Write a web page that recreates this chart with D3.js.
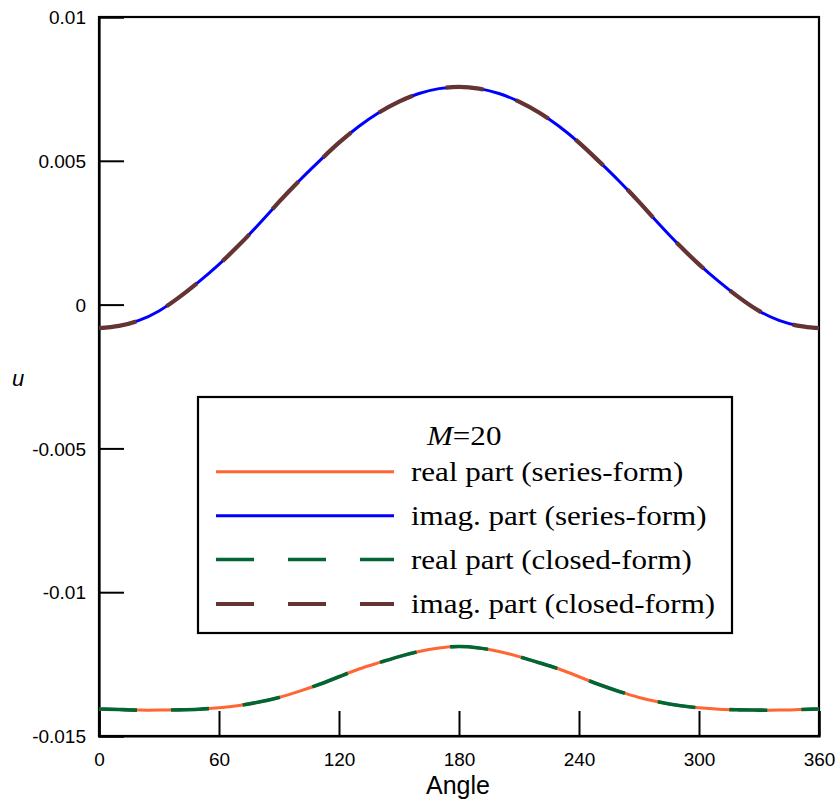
<!DOCTYPE html>
<html><head><meta charset="utf-8">
<script src="https://cdn.jsdelivr.net/npm/d3@7"></script>
<style>body{margin:0;background:#fff}svg{display:block}</style>
</head><body>
<svg id="c" width="839" height="803"></svg>
<script>
const angles = [0,10,20,30,40,50,60,70,80,90,100,110,120,130,140,150,160,170,180,190,200,210,220,230,240,250,260,270,280,290,300,310,320,330,340,350,360];
const imagPart = [-0.00082,-0.00074,-0.00055,-0.00022,0.00025,0.00080,0.00140,0.00207,0.00280,0.00357,0.00430,0.00498,0.00563,0.00620,0.00668,0.00706,0.00734,0.00751,0.00757,0.00751,0.00734,0.00706,0.00668,0.00620,0.00563,0.00498,0.00430,0.00357,0.00280,0.00207,0.00140,0.00080,0.00025,-0.00022,-0.00055,-0.00074,-0.00082];
const realPart = [-0.01406,-0.01408,-0.01410,-0.01410,-0.01409,-0.01407,-0.01402,-0.01394,-0.01382,-0.01366,-0.01345,-0.01321,-0.01294,-0.01267,-0.01245,-0.01224,-0.01206,-0.01194,-0.01189,-0.01194,-0.01206,-0.01224,-0.01245,-0.01267,-0.01294,-0.01321,-0.01345,-0.01366,-0.01382,-0.01394,-0.01402,-0.01407,-0.01409,-0.01410,-0.01410,-0.01408,-0.01406];
const xTicks = [0,60,120,180,240,300,360];
const yTicks = [-0.015,-0.01,-0.005,0,0.005,0.01];
const yTickLabels = ["-0.015","-0.01","-0.005","0","0.005","0.01"];
const legendTitle = "M";
const legendNames = ["real part (series-form)","imag. part (series-form)","real part (closed-form)","imag. part (closed-form)"];
const seriesColors = ["#ff6633","#0000ff","#006633","#663333"];

const svg = d3.select("#c");
const x = d3.scaleLinear().domain([0,360]).range([99,819]);
const y = d3.scaleLinear().domain([-0.015,0.01]).range([736,17]);
const sans = "'Liberation Sans', Arial, sans-serif";
const serif = "'Liberation Serif','Times New Roman',serif";

// frame
svg.append("rect").attr("x",99).attr("y",17).attr("width",720).attr("height",719)
  .attr("fill","none").attr("stroke","#000").attr("stroke-width",2.2);

// axes with inward ticks
const xAxis = d3.axisBottom(x).tickValues(xTicks).tickSize(-25).tickPadding(30).tickFormat(d3.format("d"));
const gx = svg.append("g").attr("transform","translate(0,736)").call(xAxis);
const yAxis = d3.axisLeft(y).tickValues(yTicks).tickSize(-25).tickPadding(13).tickFormat((d,i)=>yTickLabels[i]);
const gy = svg.append("g").attr("transform","translate(99,0)").call(yAxis);
[gx,gy].forEach(g=>{
  g.select(".domain").attr("stroke","#000").attr("stroke-width",2.2);
  g.selectAll(".tick line").attr("stroke","#000").attr("stroke-width",2);
  g.selectAll(".tick text").attr("fill","#000").style("font-family",sans).style("font-size","19px");
});
gx.selectAll(".tick text").attr("dy","0");
gy.selectAll(".tick text").attr("dy","0.35em");

// axis titles
svg.append("text").attr("x",458).attr("y",794).attr("text-anchor","middle")
  .style("font-family",sans).style("font-size","25px").text("Angle");
svg.append("text").attr("x",18).attr("y",386).attr("text-anchor","middle")
  .style("font-family",sans).style("font-size","22px").style("font-style","italic").text("u");

// curves
const line = vals => d3.line().x((d,i)=>x(angles[i])).y(d=>y(d)).curve(d3.curveNatural)(vals);
const styles = [
  {vals: realPart, w:3, dash:null},
  {vals: imagPart, w:3, dash:null},
  {vals: realPart, w:3.6, dash:"38,34"},
  {vals: imagPart, w:4.2, dash:"38,34"}
];
styles.forEach((s,i)=>{
  svg.append("path").attr("d",line(s.vals)).attr("fill","none")
    .attr("stroke",seriesColors[i]).attr("stroke-width",s.w)
    .attr("stroke-dasharray",s.dash);
});

// legend
const lg = svg.append("g");
lg.append("rect").attr("x",198).attr("y",397).attr("width",534).attr("height",236)
  .attr("fill","#fff").attr("stroke","#000").attr("stroke-width",2.2);
const t = lg.append("text").attr("transform","translate(427,445) scale(1.15,1)")
  .style("font-family",serif).style("font-size","27px");
t.append("tspan").style("font-style","italic").text(legendTitle);
t.append("tspan").text("=20");
const rowY = [471.7,515.7,559.5,604];
legendNames.forEach((n,i)=>{
  lg.append("line").attr("x1",216).attr("x2",394).attr("y1",rowY[i]).attr("y2",rowY[i])
    .attr("stroke",seriesColors[i]).attr("stroke-width",styles[i].w)
    .attr("stroke-dasharray",styles[i].dash);
  lg.append("text").attr("transform",`translate(411,${rowY[i]+9}) scale(1.15,1)`)
    .style("font-family",serif).style("font-size","27px").text(n);
});
</script>
</body></html>
